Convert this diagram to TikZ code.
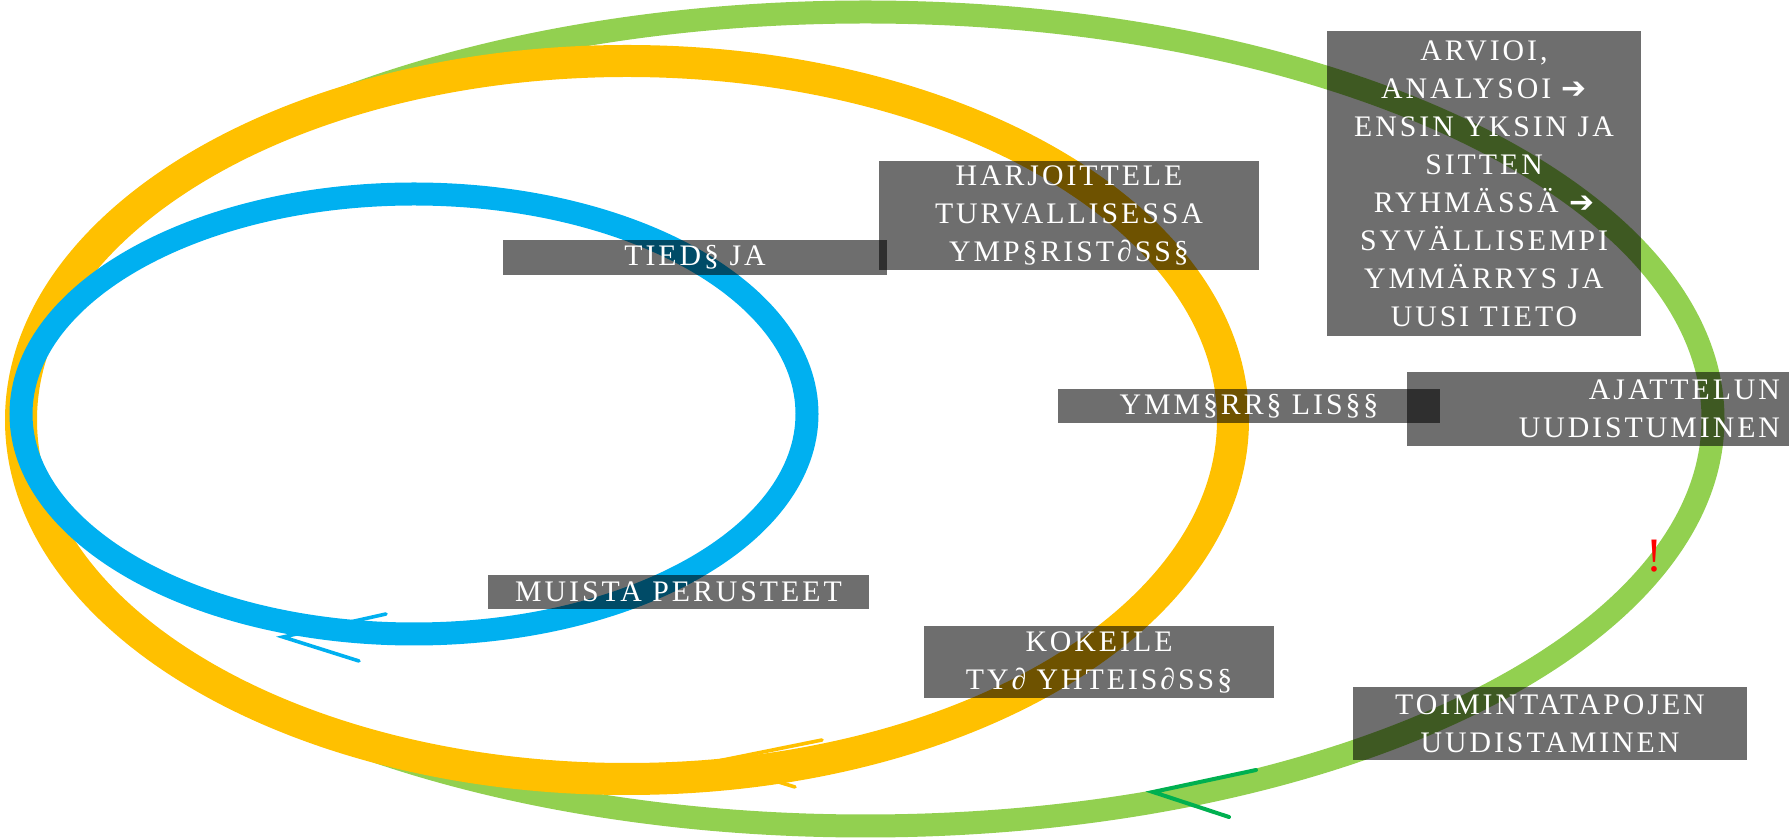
\documentclass[tikz,border=0pt]{standalone}
\usepackage{fontspec}
\setmainfont{Liberation Serif}[LetterSpace=10]
\newfontfamily\arrowfont{DejaVu Sans}
\usetikzlibrary{positioning}
\definecolor{ringblue}{RGB}{0,176,240}
\definecolor{ringyellow}{RGB}{255,192,0}
\definecolor{ringgreen}{RGB}{146,208,80}
\definecolor{tipgreen}{RGB}{0,176,80}
\newcommand{\nxt}{{\arrowfont ➔}}

\begin{document}
\begin{tikzpicture}[
    x=0.5pt, y=-0.5pt,
    box/.style={fill=black, fill opacity=0.57, text opacity=1, text=white, inner sep=0pt, align=center, font=\fontsize{14.9}{19}\selectfont},
    tip/.style={line width=1.8pt, line cap=round}
]
\useasboundingbox (0,0) rectangle (1789,838);

% the three rings
\draw[ringgreen, line width=11.5pt] (865.5,419) ellipse [x radius=847.5, y radius=407];
\draw[ringyellow, line width=16pt] (627,420) ellipse [x radius=606, y radius=359];
\draw[ringblue, line width=11.5pt] (414,414) ellipse [x radius=393, y radius=220];

% arrow heads on the rings
\coordinate (bluetip) at (283,637);
\coordinate (bluearmA) at (386,614);
\coordinate (bluearmB) at (359,661);
\coordinate (yellowtip) at (713,762);
\coordinate (yellowarmA) at (822,740);
\coordinate (yellowarmB) at (795,787);
\coordinate (greentip) at (1153,792);
\coordinate (greenarmA) at (1256,770);
\coordinate (greenarmB) at (1229,817);
\draw[tip, ringblue] (bluearmA) -- (bluetip) -- (bluearmB);
\draw[tip, ringyellow] (yellowarmA) -- (yellowtip) -- (yellowarmB);
\draw[tip, tipgreen, line width=2pt] (greenarmA) -- (greentip) -- (greenarmB);

% labels
\node[box, minimum width=192pt, minimum height=17.5pt] (tieda) at (695,257.5) {TIED§ JA};
\node[box, minimum width=190pt, minimum height=54.5pt] (harjoittele) at (1069,215.5) {HARJOITTELE\\TURVALLISESSA\\YMP§RIST∂SS§};
\node[box, minimum width=157pt, minimum height=152.5pt] (arvioi) at (1484,183.5) {ARVIOI,\\ANALYSOI \nxt\\ENSIN YKSIN JA\\SITTEN\\RYHMÄSSÄ \nxt\\SYVÄLLISEMPI\\YMMÄRRYS JA\\UUSI TIETO};
\node[box, minimum width=191pt, minimum height=17pt] (ymmarra) at (1249,406) {YMM§RR§ LIS§§};
\node[box, align=right, inner xsep=4.5pt, text width=182pt, minimum height=37pt] (ajattelu) at (1598,409) {AJATTELUN\\UUDISTUMINEN};
\node[box, minimum width=190.5pt, minimum height=17pt] (muista) at (678.5,592) {MUISTA PERUSTEET};
\node[box, minimum width=175pt, minimum height=36pt] (kokeile) at (1099,662) {KOKEILE\\TY∂ YHTEIS∂SS§};
\node[box, minimum width=197pt, minimum height=36.5pt] (toiminta) at (1550,723.5) {TOIMINTATAPOJEN\\UUDISTAMINEN};
\node[text=red, font=\fontsize{24}{24}\selectfont] (huomio) at (1654,556) {!};
\end{tikzpicture}
\end{document}
